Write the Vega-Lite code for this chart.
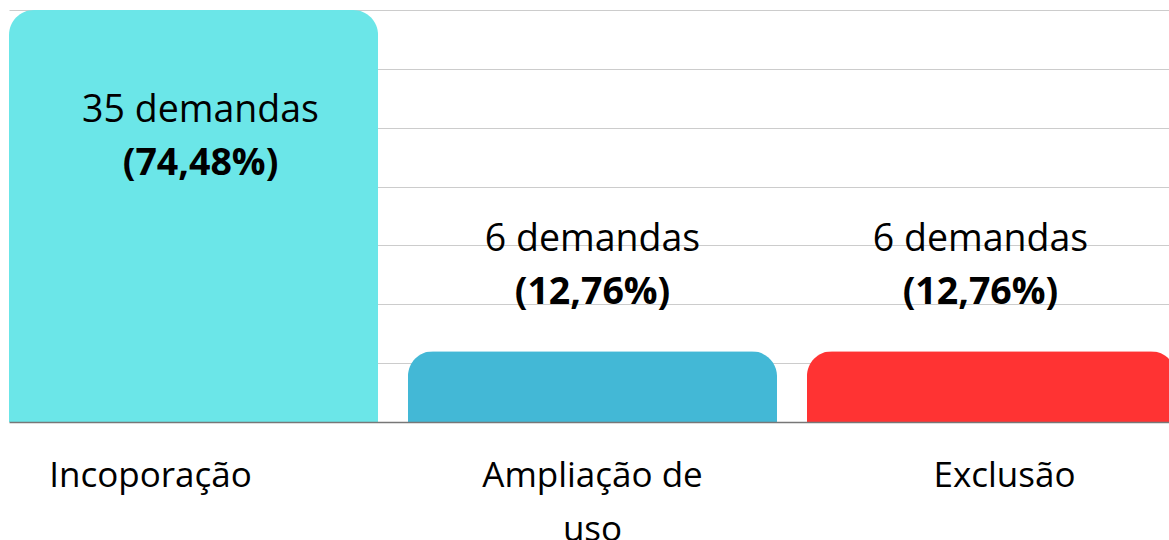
{
  "$schema": "https://vega.github.io/schema/vega-lite/v6.json",
  "width": 1167,
  "height": 412,
  "autosize": {"type": "none"},
  "padding": {"left": 9, "top": 10, "right": 0, "bottom": 118},
  "background": "white",
  "config": {
    "view": {"stroke": null},
    "font": "Open Sans"
  },
  "data": {
    "values": [
      {"categoria": "Incoporação", "demandas": 35, "rotulo": "35 demandas", "pct": "(74,48%)"},
      {"categoria": "Ampliação de uso", "demandas": 6, "rotulo": "6 demandas", "pct": "(12,76%)"},
      {"categoria": "Exclusão", "demandas": 6, "rotulo": "6 demandas", "pct": "(12,76%)"}
    ]
  },
  "encoding": {
    "x": {
      "field": "categoria",
      "type": "nominal",
      "sort": null,
      "scale": {"paddingInner": 0.075, "paddingOuter": 0},
      "axis": {
        "title": null,
        "labelAngle": 0,
        "labelFont": "Open Sans",
        "labelFontSize": 35,
        "labelColor": "#000000",
        "labelPadding": 36,
        "labelBaseline": "top",
        "labelLineHeight": 54,
        "labelLimit": 400,
        "labelOffset": {
          "condition": [
            {"test": "datum.label == 'Incoporação'", "value": -43},
            {"test": "datum.label == 'Exclusão'", "value": 13}
          ],
          "value": 0
        },
        "ticks": false,
        "domainColor": "#777777",
        "domainWidth": 1.5,
        "labelExpr": "datum.label == 'Ampliação de uso' ? ['Ampliação de', 'uso'] : datum.label",
        "zindex": 1
      }
    },
    "y": {
      "field": "demandas",
      "type": "quantitative",
      "scale": {"domain": [0, 35], "nice": false},
      "axis": {
        "title": null,
        "labels": false,
        "ticks": false,
        "domain": false,
        "grid": true,
        "gridColor": "#cccccc",
        "gridWidth": 1,
        "values": [5, 10, 15, 20, 25, 30, 35]
      }
    }
  },
  "layer": [
    {
      "mark": {"type": "bar", "cornerRadiusTopLeft": 25, "cornerRadiusTopRight": 25},
      "encoding": {
        "color": {
          "field": "categoria",
          "type": "nominal",
          "sort": null,
          "scale": {
            "domain": ["Incoporação", "Ampliação de uso", "Exclusão"],
            "range": ["#6BE6E8", "#43B8D6", "#FF3333"]
          },
          "legend": null
        }
      }
    },
    {
      "transform": [{"filter": "datum.categoria == 'Incoporação'"}],
      "mark": {"type": "text", "fontSize": 37.5, "dy": 101, "dx": 7, "color": "#000000", "font": "Open Sans"},
      "encoding": {"text": {"field": "rotulo"}}
    },
    {
      "transform": [{"filter": "datum.categoria == 'Incoporação'"}],
      "mark": {"type": "text", "fontSize": 37.5, "fontWeight": "bold", "dy": 154, "dx": 7, "color": "#000000", "font": "Open Sans"},
      "encoding": {"text": {"field": "pct"}}
    },
    {
      "transform": [{"filter": "datum.categoria == 'Ampliação de uso'"}],
      "mark": {"type": "text", "fontSize": 37.5, "dy": -111, "color": "#000000", "font": "Open Sans"},
      "encoding": {"text": {"field": "rotulo"}}
    },
    {
      "transform": [{"filter": "datum.categoria == 'Ampliação de uso'"}],
      "mark": {"type": "text", "fontSize": 37.5, "fontWeight": "bold", "dy": -58, "color": "#000000", "font": "Open Sans"},
      "encoding": {"text": {"field": "pct"}}
    },
    {
      "transform": [{"filter": "datum.categoria == 'Exclusão'"}],
      "mark": {"type": "text", "fontSize": 37.5, "dy": -111, "dx": -11, "color": "#000000", "font": "Open Sans"},
      "encoding": {"text": {"field": "rotulo"}}
    },
    {
      "transform": [{"filter": "datum.categoria == 'Exclusão'"}],
      "mark": {"type": "text", "fontSize": 37.5, "fontWeight": "bold", "dy": -58, "dx": -11, "color": "#000000", "font": "Open Sans"},
      "encoding": {"text": {"field": "pct"}}
    }
  ]
}
